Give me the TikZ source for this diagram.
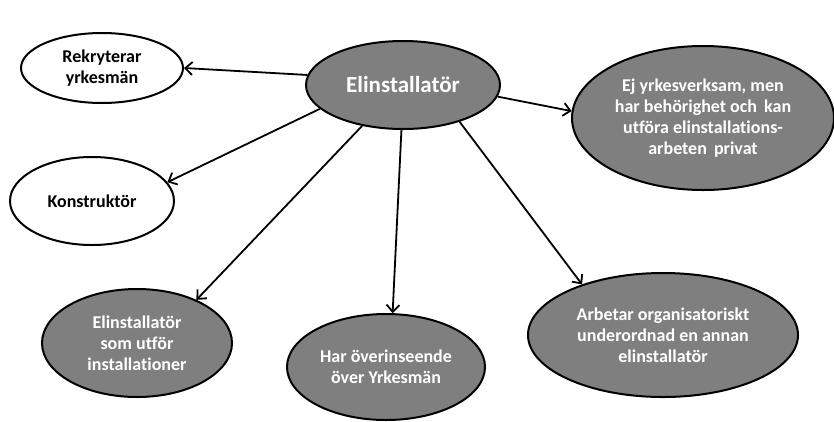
\documentclass[tikz,border=0pt]{standalone}
\usepackage{fontspec}
\setmainfont[Ligatures=NoCommon]{Carlito}
\usetikzlibrary{shapes.geometric,arrows.meta}
\definecolor{bubblegray}{HTML}{7F7F7F}
\begin{document}
\begin{tikzpicture}[x=1pt,y=-1pt,
  bub/.style={ellipse,draw=black,line width=2pt,inner sep=0pt,align=center,
    font=\bfseries\fontsize{18}{21}\selectfont},
  whitebub/.style={bub,fill=white,text=black},
  graybub/.style={bub,fill=bubblegray,text=white},
  conn/.style={draw=black,line width=1.8pt,-{Straight Barb[length=7pt,width=13pt,line width=1.8pt]}}]
\useasboundingbox (0,0) rectangle (834,421);
\node[graybub,minimum width=194pt,minimum height=88pt,font=\bfseries\fontsize{23}{27}\selectfont] (c) at (403,85) {Elinstallatör};
\node[whitebub,minimum width=162pt,minimum height=70pt] (r) at (102,68) {Rekryterar\\yrkesmän};
\node[whitebub,minimum width=164pt,minimum height=88pt] (k) at (92,201) {Konstruktör};
\node[graybub,minimum width=262pt,minimum height=144pt] (e) at (703,118) {Ej yrkesverksam, men\\har behörighet och\, kan\\utföra elinstallations-\\arbeten\, privat};
\node[graybub,minimum width=190pt,minimum height=108pt] (i) at (137,343) {Elinstallatör\\som utför\\installationer};
\node[graybub,minimum width=198pt,minimum height=106pt] (h) at (386,367) {Har överinseende\\över Yrkesmän};
\node[graybub,minimum width=270pt,minimum height=124pt] (a) at (663,335) {Arbetar organisatoriskt\\underordnad en annan\\elinstallatör};
\draw[conn] (c.174) -- (r.0);
\draw[conn] (c.196) -- (k.14);
\draw[conn] (c.225) -- (i.36);
\draw[conn] (c.268) -- (h.83);
\draw[conn] (c.327) -- (a.148);
\draw[conn] (c.353) -- (e.177);
\end{tikzpicture}
\end{document}
